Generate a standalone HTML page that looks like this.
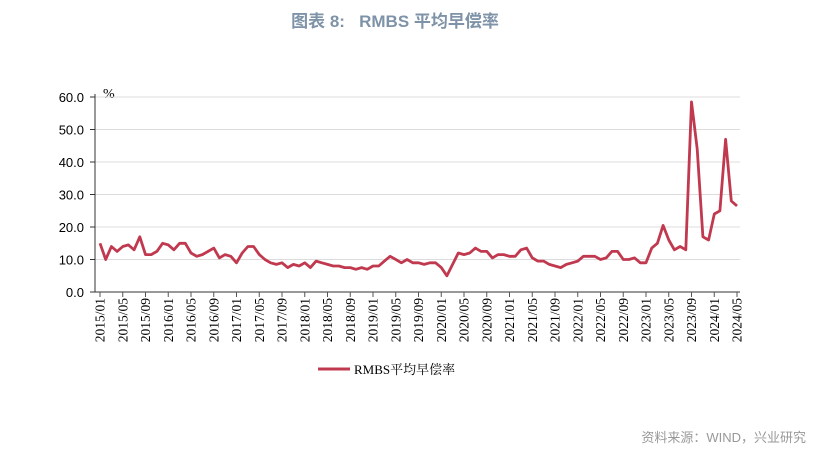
<!DOCTYPE html>
<html><head><meta charset="utf-8"><style>
body{margin:0;background:#fff;width:817px;height:454px;overflow:hidden;font-family:"Liberation Sans","Noto Sans CJK SC",sans-serif}
</style></head><body>
<svg width="817" height="454" id="svg">
<text x="395" y="27" text-anchor="middle" font-size="17" font-weight="bold" fill="#7f93a8" font-family="Liberation Sans, Noto Sans CJK SC, sans-serif" style="white-space:pre">图表 8:   RMBS 平均早偿率</text>
<text x="103" y="98" font-size="14" font-family="Liberation Serif, serif" fill="#000">%</text>
<g id="grid"></g><g id="axes"></g><g id="series"></g>
<g>
<line x1="318" y1="369" x2="350" y2="369" stroke="#c0394f" stroke-width="3"/>
<text x="354" y="374" font-size="13" font-family="Liberation Serif, Noto Serif CJK SC, serif" fill="#000">RMBS平均早偿率</text>
</g>
<text x="806" y="442" text-anchor="end" font-size="13" fill="#999">资料来源：WIND，兴业研究</text>
</svg>
<script>
const startYear = 2015, startMonth = 1;
const values = [15,10,14,12.5,14,14.5,13,17,11.5,11.5,12.5,15,
14.5,13,15,15,12,11,11.5,12.5,13.5,10.5,11.5,11,
9,12,14,14,11.5,10,9,8.5,9,7.5,8.5,8,
9,7.5,9.5,9,8.5,8,8,7.5,7.5,7,7.5,7,
8,8,9.5,11,10,9,10,9,9,8.5,9,9,
7.5,5,8.5,12,11.5,12,13.5,12.5,12.5,10.5,11.5,11.5,
11,11,13,13.5,10.5,9.5,9.5,8.5,8,7.5,8.5,9,
9.5,11,11,11,10,10.5,12.5,12.5,10,10,10.5,9,
9,13.5,15,20.5,16,13,14,13,58.5,44,17,16,
24,25,47,28,26.5];
const yTicks = [0,10,20,30,40,50,60];
const yTickLabels = ["0.0","10.0","20.0","30.0","40.0","50.0","60.0"];
const NS="http://www.w3.org/2000/svg";
const X0=100,X1=737,Y0=292,Y1=97,YMAX=60;
const n=values.length;
const xs=i=>X0+(X1-X0)*i/(n-1);
const ys=v=>Y0-(Y0-Y1)*v/YMAX;
function mk(t,a,p){const e=document.createElementNS(NS,t);for(const k in a)e.setAttribute(k,a[k]);p.appendChild(e);return e;}
const grid=document.getElementById('grid'),axes=document.getElementById('axes'),ser=document.getElementById('series');
yTicks.forEach((v,i)=>{
 if(v>0){const g=mk('line',{x1:95,x2:740,y1:ys(v),y2:ys(v),stroke:'#dcdcdc','stroke-width':1},grid);
 
 }
 const tk=mk('line',{x1:90,x2:95,y1:ys(v),y2:ys(v),stroke:'#333'},axes);
 
 
 const t=mk('text',{x:84,y:ys(v)+5,'text-anchor':'end','font-size':13,fill:'#000'},axes);
 t.textContent=yTickLabels[i];
 
 
});
const ya=mk('line',{x1:95,x2:95,y1:Y1-3,y2:Y0,stroke:'#333'},axes);


const xa=mk('line',{x1:95,x2:740,y1:Y0,y2:Y0,stroke:'#333'},axes);


for(let i=0;i<n;i+=4){
 const x=xs(i);
 const tk=mk('line',{x1:x,x2:x,y1:Y0,y2:Y0+5,stroke:'#555'},axes);
 
 
 const m=startMonth-1+i,yr=startYear+Math.floor(m/12),mo=m%12+1;
 const t=mk('text',{x:0,y:0,'text-anchor':'end','font-size':13.5,fill:'#000','font-family':'Liberation Serif, serif',transform:`translate(${x+4.5},${Y0+6}) rotate(-90)`},axes);
 t.textContent=yr+'/'+String(mo).padStart(2,'0');
 
 
}
const p=mk('polyline',{points:values.map((v,i)=>xs(i).toFixed(1)+','+ys(v).toFixed(1)).join(' '),fill:'none',stroke:'#c0394f','stroke-width':2.8,'stroke-linejoin':'round'},ser);


</script>
</body></html>
